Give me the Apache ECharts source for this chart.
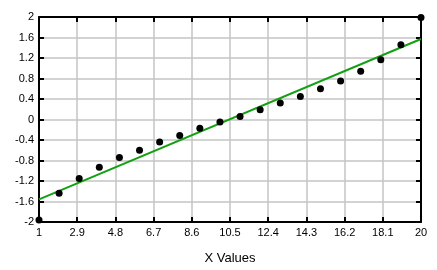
<!DOCTYPE html>
<html><head><meta charset="utf-8">
<script src="https://cdn.jsdelivr.net/npm/echarts@6/dist/echarts.min.js"></script>
<style>html,body{margin:0;padding:0;background:#fff}#c{width:437px;height:270px}</style>
</head><body><div id="c"></div>
<script>
const xValues = [1,2,3,4,5,6,7,8,9,10,11,12,13,14,15,16,17,18,19,20];
const yValues = [-1.96,-1.44,-1.15,-0.93,-0.74,-0.6,-0.44,-0.31,-0.17,-0.05,0.06,0.19,0.32,0.45,0.6,0.75,0.94,1.165,1.46,1.99];
const fitX = [1, 20];
const fitY = [-1.56, 1.57];
const xTicks = [1,2.9,4.8,6.7,8.6,10.5,12.4,14.3,16.2,18.1,20];
const xName = 'X Values';

const font = 'Arial, "Liberation Sans", sans-serif';
const chart = echarts.init(document.getElementById('c'), null, {renderer:'canvas'});
const frameLine = {show:true, onZero:false, lineStyle:{color:'#000', width:2}};
const tick = {show:true, inside:true, length:5, lineStyle:{color:'#000', width:2}};
const gridLine = {show:true, lineStyle:{color:'#c4c4c4', width:1.5}};
chart.setOption({
  animation:false,
  backgroundColor:'#fff',
  grid:{left:39, right:16, top:17, bottom:47},
  xAxis:[{
    type:'value', min:1, max:20, position:'bottom',
    name:xName, nameLocation:'middle', nameGap:30,
    nameTextStyle:{fontFamily:font, fontSize:13, color:'#000'},
    axisLine:frameLine,
    axisTick:Object.assign({customValues:xTicks}, tick),
    axisLabel:{customValues:xTicks, fontFamily:font, fontSize:11, color:'#000', margin:5},
    splitLine:{show:false}, z:5
  },{
    type:'value', min:1, max:20, position:'top',
    axisLine:frameLine,
    axisTick:Object.assign({customValues:xTicks}, tick),
    axisLabel:{show:false},
    splitLine:{show:false}, z:5
  },{
    // span of the tick steps (xTicks minus the first tick), used only for vertical grid lines
    type:'value', min:0, max:xTicks[xTicks.length-1]-xTicks[0], interval:xTicks[1]-xTicks[0],
    position:'bottom', offset:0,
    axisLine:{show:false}, axisTick:{show:false}, axisLabel:{show:false},
    splitLine:gridLine, z:0
  }],
  yAxis:[{
    type:'value', min:-2, max:2, interval:0.4, position:'left',
    axisLine:frameLine, axisTick:tick,
    axisLabel:{fontFamily:font, fontSize:11, color:'#000', margin:5,
      formatter:v=>String(Math.round(v*10)/10)},
    splitLine:gridLine, z:1
  },{
    type:'value', min:-2, max:2, interval:0.4, position:'right',
    axisLine:frameLine, axisTick:tick,
    axisLabel:{show:false}, splitLine:{show:false}, z:5
  }],
  series:[{
    type:'line', data:fitX.map((x,i)=>[x,fitY[i]]), symbol:'none',
    lineStyle:{color:'#13a013', width:2}, z:11
  },{
    type:'scatter', data:xValues.map((x,i)=>[x,yValues[i]]),
    symbol:'circle', symbolSize:7, itemStyle:{color:'#000', opacity:1}, clip:false, z:12
  }]
});
</script></body></html>
